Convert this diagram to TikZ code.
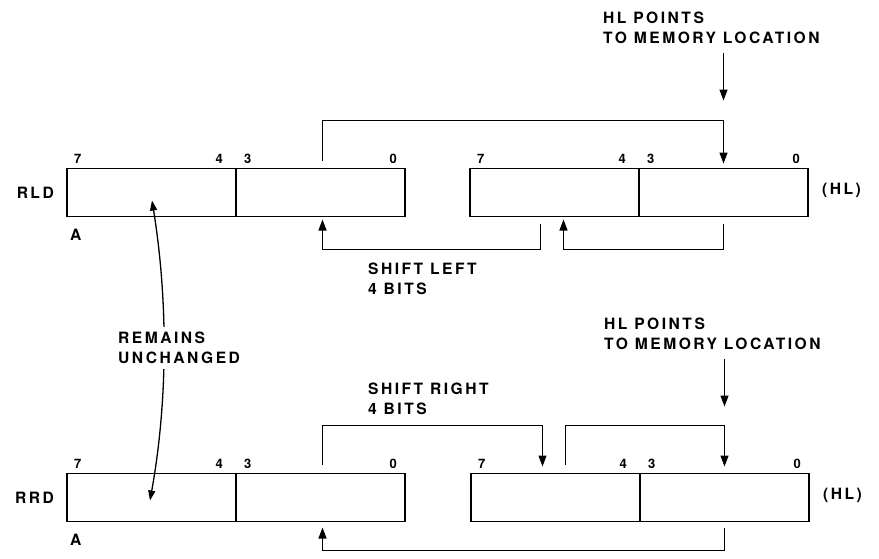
\documentclass[tikz,border=0pt]{standalone}
\usepackage{fontspec}
\newfontfamily\lettering{TeX Gyre Heros}[LetterSpace=16]
\usetikzlibrary{arrows.meta, positioning, calc}

\begin{document}
\begin{tikzpicture}[
  x=1pt, y=-1pt,
  >={Triangle[length=11pt, width=8pt]},
  font=\lettering\bfseries\fontsize{15.6}{20}\selectfont,
  nibble/.style={draw, line width=1.6pt, minimum width=169pt, minimum height=48pt, inner sep=0pt, outer sep=0pt},
  bitnum/.style={font=\lettering\bfseries\fontsize{13}{14}\selectfont, inner sep=0pt},
  lbl/.style={inner sep=0pt, align=left},
  link/.style={line width=1.3pt},
  ]
  \useasboundingbox (0,0) rectangle (879,558);

  % RLD row: accumulator and memory byte
  \node[nibble] (rldAhi) at (151.5,192.5) {};
  \node[nibble, right=0pt of rldAhi] (rldAlo) {};
  \node[nibble] (rldMhi) at (554.5,192.5) {};
  \node[nibble, right=0pt of rldMhi] (rldMlo) {};

  % RRD row: accumulator and memory byte
  \node[nibble] (rrdAhi) at (151.5,497.5) {};
  \node[nibble, right=0pt of rrdAhi] (rrdAlo) {};
  \node[nibble] (rrdMhi) at (555.5,497.5) {};
  \node[nibble, right=0pt of rrdMhi] (rrdMlo) {};

  % bit numbers above each byte
  \foreach \rw in {rldA, rldM, rrdA, rrdM} {
    \node[bitnum, anchor=base west] (\rw 7) at ($(\rw hi.north west)+(7,-5)$) {7};
    \node[bitnum, anchor=base east] (\rw 4) at ($(\rw hi.north east)+(-13,-5)$) {4};
    \node[bitnum, anchor=base west] (\rw 3) at ($(\rw lo.north west)+(8,-5)$) {3};
    \node[bitnum, anchor=base east] (\rw 0) at ($(\rw lo.north east)+(-8,-5)$) {0};
  }

  % row names and register names
  \node[lbl, anchor=east] (rldName) at ($(rldAhi.west)+(-13,0)$) {RLD};
  \node[lbl, anchor=east] (rrdName) at ($(rrdAhi.west)+(-13,0)$) {RRD};
  \node[lbl, anchor=north west] (rldAcc) at ($(rldAhi.south west)+(3,12)$) {A};
  \node[lbl, anchor=north west] (rrdAcc) at ($(rrdAhi.south west)+(3,12)$) {A};
  \node[lbl, anchor=west] (rldHL) at ($(rldMlo.east)+(14,-2)$) {(HL)};
  \node[lbl, anchor=west] (rrdHL) at ($(rrdMlo.east)+(14,-2)$) {(HL)};

  % HL pointer notes
  \node[lbl, anchor=north west] (hlNoteRld) at (603,12) {HL POINTS\\TO MEMORY LOCATION};
  \node[lbl, anchor=north west] (hlNoteRrd) at (604,318) {HL POINTS\\TO MEMORY LOCATION};
  \draw[link, ->] ($(hlNoteRld.south -| rldMlo.north)+(0,9)$) -- ($(rldMlo.north)+(0,-68)$);
  \draw[link, ->] ($(hlNoteRrd.south -| rrdMlo.north)+(0,9)$) -- ($(rrdMlo.north)+(0,-67)$);

  % RLD transfers
  \draw[link, ->] ($(rldAlo.north)+(2,-8)$) -- ++(0,-40) -| ($(rldMlo.north)+(0,-5)$);
  \draw[link, ->] ($(rldMhi.south)+(-14,7)$) -- ++(0,26) -| ($(rldAlo.south)+(2,3)$);
  \draw[link, ->] ($(rldMlo.south)+(0,7)$) -- ++(0,26) -| ($(rldMhi.south)+(9,3)$);
  \node[lbl, anchor=north west] (shiftLeft) at (368,263) {SHIFT LEFT\\4 BITS};

  % RRD transfers
  \draw[link, ->] ($(rrdAlo.north)+(2,-9)$) -- ++(0,-39) -| ($(rrdMhi.north)+(-13,-7)$);
  \draw[link, ->] ($(rrdMhi.north)+(10,-9)$) -- ++(0,-39) -| ($(rrdMlo.north)+(0,-7)$);
  \draw[link, ->] ($(rrdMlo.south)+(0,6)$) -- ++(0,23) -| ($(rrdAlo.south)+(2,6)$);
  \node[lbl, anchor=north west] (shiftRight) at (368,383) {SHIFT RIGHT\\4 BITS};

  % high nibble of A is left alone
  \draw[link, <->, >={Triangle[length=10pt, width=7pt]}]
    ($(rldAhi.center)+(0.5,8)$) .. controls (168,300) and (168,400) .. ($(rrdAhi.center)+(-1.5,3)$);
  \node[lbl, anchor=north west, fill=white, inner xsep=2pt, inner ysep=5pt] (unchanged) at (116,327) {REMAINS\\UNCHANGED};
\end{tikzpicture}
\end{document}
